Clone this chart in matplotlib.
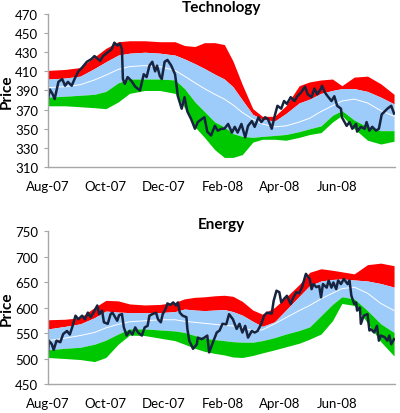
import numpy as np
import matplotlib
matplotlib.use("Agg")
import matplotlib.pyplot as plt
import matplotlib.dates as mdates

plt.rcParams['font.family'] = ['Lato', 'DejaVu Sans']

start = np.datetime64('2007-08-01')

# band sample days (offset from 1 Aug 2007)
band_days = [0, 18, 34, 49, 61, 74, 86, 102, 118, 134, 144, 155, 165, 176, 186,
             195, 205, 216, 226, 239, 251, 265, 276, 288, 300, 310, 323, 337, 351, 365]

# Technology bands
tech_up2 = [411, 412, 414, 425, 434, 441, 442, 442, 441, 441, 437, 436, 440, 440, 438,
            421, 396, 371, 363, 363, 374, 395, 399, 401, 402, 395, 404, 405, 397, 386]
tech_up1 = [402, 403, 405, 413, 420, 427, 429, 430, 429, 427, 423, 418, 413, 407, 402,
            394, 380, 365, 360, 358, 366, 377, 381, 387, 390, 392, 392, 389, 383, 376]
tech_mid = [393, 394, 396, 401, 406, 412, 415, 416, 415, 411, 405, 398, 392, 386, 381,
            375, 367, 360, 355, 352, 353, 357, 361, 368, 374, 379, 381, 377, 369, 363]
tech_lo1 = [383, 384, 385, 386, 389, 398, 402, 402, 402, 401, 392, 378, 368, 357, 352,
            345, 342, 341, 342, 343, 344, 347, 350, 353, 364, 369, 359, 352, 348, 348]
tech_lo2 = [374, 374, 373, 372, 371, 378, 387, 390, 390, 387, 372, 352, 341, 328, 320,
            320, 323, 336, 339, 339, 338, 341, 344, 346, 357, 364, 350, 338, 334, 337]

# Energy bands
energy_up2 = [576, 577, 580, 600, 614, 613, 607, 605, 606, 610, 617, 620, 621, 623, 624,
              622, 612, 595, 587, 600, 620, 645, 669, 676, 673, 670, 666, 684, 687, 682]
energy_up1 = [558, 563, 568, 580, 593, 591, 590, 590, 590, 592, 597, 595, 594, 595, 596,
              592, 585, 573, 563, 572, 595, 622, 643, 652, 655, 656, 654, 652, 647, 640]
energy_mid = [535, 540, 545, 551, 560, 567, 572, 574, 576, 576, 573, 571, 569, 567, 565,
              564, 560, 555, 556, 568, 580, 594, 604, 617, 628, 637, 640, 628, 608, 594]
energy_lo1 = [517, 520, 522, 528, 536, 548, 558, 558, 556, 554, 551, 545, 540, 537, 535,
              533, 532, 532, 535, 541, 548, 555, 562, 584, 606, 621, 617, 594, 568, 551]
energy_lo2 = [502, 500, 498, 494, 502, 528, 546, 545, 540, 535, 528, 520, 514, 510, 507,
              503, 502, 506, 511, 517, 523, 530, 538, 548, 574, 608, 604, 570, 533, 505]

# Technology price
tech_days = [0, 2, 5, 7, 11, 15, 18, 21, 25, 28, 32, 36, 41, 46, 49, 55, 58, 63, 67, 70,
             73, 76, 78, 79, 81, 84, 88, 92, 97, 101, 104, 107, 110, 113, 115, 118, 120,
             123, 126, 130, 134, 136, 137, 141, 144, 147, 151, 155, 158, 162, 165, 168,
             172, 176, 179, 183, 186, 190, 194, 197, 200, 204, 208, 211, 215, 218, 222,
             225, 229, 232, 236, 239, 242, 246, 249, 252, 256, 260, 263, 267, 271, 274,
             278, 281, 284, 288, 289, 292, 295, 299, 302, 305, 309, 310, 315, 318, 321,
             325, 326, 330, 334, 336, 339, 342, 346, 349, 352, 358, 362, 365]
tech_price = [381, 391, 386, 381, 399, 402, 395, 399, 395, 402, 410, 414, 420, 423, 426,
              421, 426, 430, 433, 440, 437, 439, 433, 402, 397, 404, 400, 394, 390, 407,
              404, 416, 420, 410, 416, 405, 402, 420, 422, 416, 407, 392, 384, 371, 383,
              368, 360, 350, 357, 360, 362, 347, 343, 353, 348, 350, 350, 355, 346, 352,
              346, 355, 341, 353, 358, 352, 362, 357, 362, 360, 350, 363, 374, 371, 379,
              376, 383, 379, 384, 388, 394, 386, 383, 392, 386, 392, 395, 388, 384, 379,
              384, 374, 371, 362, 353, 357, 350, 355, 347, 352, 350, 357, 348, 352, 348,
              350, 365, 371, 374, 366]

# Energy price
energy_days = [0, 1, 4, 6, 9, 13, 16, 20, 23, 26, 29, 32, 36, 39, 42, 45, 48, 52, 54, 57,
               59, 63, 66, 68, 73, 75, 78, 80, 83, 86, 89, 92, 95, 99, 102, 105, 107, 110,
               114, 116, 119, 121, 124, 126, 129, 132, 135, 137, 139, 142, 146, 147, 149,
               153, 157, 158, 162, 165, 168, 170, 174, 178, 181, 184, 188, 191, 195, 199,
               202, 205, 208, 211, 215, 218, 221, 225, 228, 231, 236, 238, 241, 244, 246,
               249, 252, 256, 258, 262, 265, 268, 272, 276, 278, 280, 283, 286, 288, 290,
               294, 296, 299, 301, 304, 306, 309, 312, 316, 318, 320, 323, 325, 326, 329,
               330, 333, 337, 339, 341, 344, 347, 349, 351, 355, 358, 360, 362, 365]
energy_price = [512, 535, 528, 517, 535, 532, 548, 554, 547, 564, 584, 577, 584, 577, 590,
                581, 590, 604, 587, 594, 571, 568, 587, 590, 574, 585, 587, 561, 545, 554,
                547, 561, 551, 545, 561, 564, 584, 587, 590, 577, 571, 587, 597, 608, 605,
                610, 604, 610, 590, 584, 581, 558, 535, 519, 528, 541, 538, 541, 545, 512,
                532, 551, 555, 568, 567, 587, 577, 558, 568, 551, 564, 541, 554, 551, 554,
                568, 584, 590, 588, 613, 633, 630, 610, 617, 623, 607, 617, 630, 628, 640,
                666, 656, 636, 646, 640, 642, 620, 646, 639, 653, 639, 649, 636, 653, 646,
                656, 646, 653, 623, 607, 610, 594, 600, 568, 584, 587, 555, 557, 551, 564,
                535, 545, 542, 535, 545, 528, 538]

tick_months = ['2007-08-01', '2007-10-01', '2007-12-01', '2008-02-01', '2008-04-01', '2008-06-01']

charts = [
    ('Technology', tech_up2, tech_up1, tech_mid, tech_lo1, tech_lo2, tech_days, tech_price,
     (310, 470), np.arange(310, 471, 20), [0.12, 0.5942, 0.8675, 0.3696]),
    ('Energy', energy_up2, energy_up1, energy_mid, energy_lo1, energy_lo2, energy_days, energy_price,
     (450, 750), np.arange(450, 751, 50), [0.12, 0.0700, 0.8675, 0.3696]),
]

fig = plt.figure(figsize=(4.0, 4.14), dpi=100)
bd = start + np.array(band_days).astype('timedelta64[D]')

for title, up2, up1, mid, lo1, lo2, pdays, price, ylim, yticks, rect in charts:
    ax = fig.add_axes(rect)
    ax.fill_between(bd, up2, up1, color='#FF0000', lw=0)
    ax.fill_between(bd, up1, lo1, color='#9DCBFA', lw=0)
    ax.fill_between(bd, lo1, lo2, color='#00C800', lw=0)
    ax.plot(bd, mid, color='white', lw=0.7)
    pd_ = start + np.array(pdays).astype('timedelta64[D]')
    ax.plot(pd_, price, color='#17243F', lw=1.8)

    ax.set_xlim(start, np.datetime64('2008-08-01'))
    ax.set_ylim(*ylim)
    ax.set_yticks(yticks)
    ax.set_xticks(np.array(tick_months, dtype='datetime64[D]'))
    ax.xaxis.set_major_formatter(mdates.DateFormatter('%b-%y'))
    for s in ['top', 'right']:
        ax.spines[s].set_visible(False)
    for s in ['left', 'bottom']:
        ax.spines[s].set_color('#A6A6A6')
        ax.spines[s].set_linewidth(1.0)
    ax.tick_params(axis='y', length=3, color='#A6A6A6', pad=4, labelsize=9.5)
    ax.tick_params(axis='x', length=0, pad=9, labelsize=9.5)
    ax.set_title(title, fontsize=11, fontweight='bold', pad=2)
    ax.set_ylabel('Price', fontsize=11, fontweight='bold')
    ax.yaxis.set_label_coords(-0.1, 0.5)

fig.savefig('out.png', dpi=100)
